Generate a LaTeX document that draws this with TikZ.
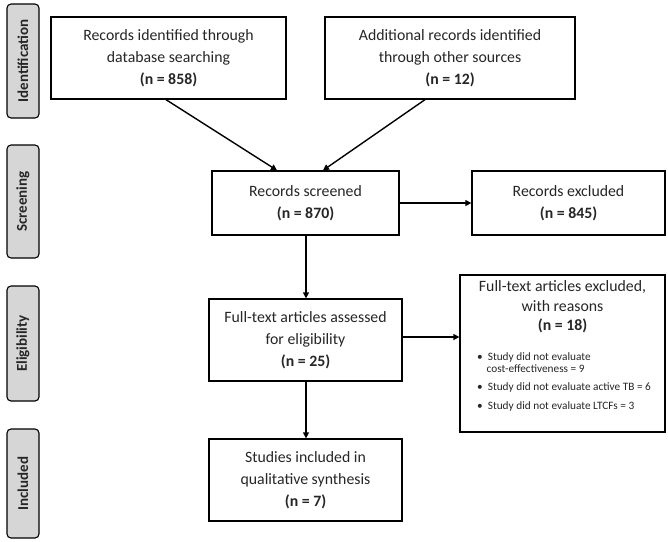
\documentclass[tikz,border=0pt]{standalone}
\usepackage{fontspec}
\setmainfont{Carlito}
\usetikzlibrary{arrows.meta,calc}
\definecolor{sidegray}{RGB}{214,214,214}
\tikzset{
  box/.style={draw=black, line width=1.3pt, fill=white, align=center, inner sep=2pt,
    font=\fontsize{15.8}{22}\selectfont, text=black!85},
  side/.style={draw=black, line width=1.1pt, fill=sidegray, rounded corners=4pt,
    rotate=90, minimum height=32pt, inner sep=0pt, font=\fontsize{15}{17}\selectfont\bfseries, text=black!85},
  conn/.style={line width=1.4pt, -{Triangle[length=6pt,width=6pt]}},
  bul/.style={anchor=west, align=left, inner sep=0pt, font=\fontsize{11.3}{11.5}\selectfont, text=black!85},
}
\begin{document}
\begin{tikzpicture}[x=1pt,y=-1pt]
\useasboundingbox (0,0) rectangle (668,541);
% side labels
\node[side, minimum width=114pt] (sid) at (23,61) {Identification};
\node[side, minimum width=113pt] (ssc) at (23,201.5) {Screening};
\node[side, minimum width=115pt] (sel) at (23,343.5) {Eligibility};
\node[side, minimum width=109pt] (sin) at (23,483.5) {Included};
% boxes
\node[box, minimum width=235pt, minimum height=82pt] (A) at (168.5,58)
  {Records identified through\\database searching\\\textbf{(n = 858)}};
\node[box, minimum width=250pt, minimum height=82pt] (B) at (450,58)
  {Additional records identified\\through other sources\\\textbf{(n = 12)}};
\node[box, minimum width=187pt, minimum height=64pt] (scr) at (305.5,203)
  {Records screened\\\textbf{(n = 870)}};
\node[box, minimum width=193pt, minimum height=64pt] (exc) at (568.5,203)
  {Records excluded\\\textbf{(n = 845)}};
\node[box, minimum width=193pt, minimum height=82pt] (ass) at (305.5,340)
  {Full-text articles assessed\\for eligibility\\\textbf{(n = 25)}};
\node[box, minimum width=205pt, minimum height=157pt] (fex) at (562.5,353.5) {};
\node[align=center, inner sep=0pt, font=\fontsize{15.8}{19.5}\selectfont, text=black!85] (fext) at (562.5,307)
  {Full-text articles excluded,\\with reasons\\\textbf{(n = 18)}};
\node[bul] (b1) at (477,362.5) {\textbullet\hspace{5pt}Study did not evaluate\\\hspace*{9.5pt}cost-effectiveness = 9};
\node[bul] (b2) at (477,387) {\textbullet\hspace{5pt}Study did not evaluate active TB = 6};
\node[bul] (b3) at (477,406) {\textbullet\hspace{5pt}Study did not evaluate LTCFs = 3};
\node[box, minimum width=193pt, minimum height=82pt] (inc) at (305.5,480)
  {Studies included in\\qualitative synthesis\\\textbf{(n = 7)}};
% connectors
\draw[conn] ([xshift=-2.5pt]A.south) -- ([xshift=-28.5pt]scr.north);
\draw[conn] ([xshift=-25pt]B.south) -- ([xshift=17.5pt]scr.north);
\draw[conn] (scr.east) -- (exc.west);
\draw[conn] ([xshift=0.5pt]scr.south) -- ([xshift=0.5pt]ass.north);
\draw[conn] ([yshift=3pt]ass.east) -- ([yshift=3pt]ass.east -| fex.west);
\draw[conn] ([xshift=0.5pt]ass.south) -- ([xshift=0.5pt]inc.north);
\end{tikzpicture}
\end{document}
